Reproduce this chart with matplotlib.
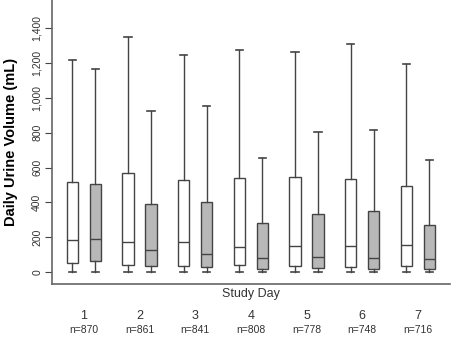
import matplotlib
matplotlib.use("Agg")
import matplotlib.pyplot as plt
from matplotlib.ticker import FuncFormatter

days = [1, 2, 3, 4, 5, 6, 7]
counts = [870, 861, 841, 808, 778, 748, 716]

# white boxes (first group each day)
a_whishi = [1217, 1347, 1247, 1274, 1261, 1309, 1196]
a_q3 = [518, 570, 527, 541, 547, 537, 495]
a_med = [185, 173, 172, 145, 150, 150, 154]
a_q1 = [53, 42, 38, 44, 38, 33, 34]
a_whislo = [0, 0, 0, 0, 0, 0, 0]

# grey boxes (second group each day)
b_whishi = [1166, 922, 954, 655, 806, 817, 644]
b_q3 = [507, 390, 400, 280, 335, 352, 269]
b_med = [193, 130, 103, 84, 90, 82, 76]
b_q1 = [67, 38, 30, 21, 23, 21, 21]
b_whislo = [0, 0, 0, 0, 0, 0, 0]

plt.rcParams['font.family'] = ['Liberation Sans', 'DejaVu Sans']
line_col = '#444444'

fig = plt.figure(figsize=(4.51, 3.51), dpi=100)
ax = fig.add_axes([0.115, 0.19, 0.883, 0.81])


def stats(lo, q1, med, q3, hi):
    return [dict(whislo=a, q1=b, med=c, q3=d, whishi=e, fliers=[])
            for a, b, c, d, e in zip(lo, q1, med, q3, hi)]


props = dict(patch_artist=True, showfliers=False, widths=0.2,
             whiskerprops=dict(color=line_col, lw=1.0),
             capprops=dict(color=line_col, lw=1.2),
             medianprops=dict(color=line_col, lw=1.0))
props['capwidths'] = 0.13

ax.bxp(stats(a_whislo, a_q1, a_med, a_q3, a_whishi),
       positions=[d - 0.207 for d in days],
       boxprops=dict(facecolor='white', edgecolor=line_col, lw=1.0), **props)
ax.bxp(stats(b_whislo, b_q1, b_med, b_q3, b_whishi),
       positions=[d + 0.207 for d in days],
       boxprops=dict(facecolor='#b8b8b8', edgecolor=line_col, lw=1.0), **props)

ax.set_xlim(0.425, 7.58)
ax.set_ylim(-69, 1560)
ax.set_yticks([0, 200, 400, 600, 800, 1000, 1200, 1400])
ax.yaxis.set_major_formatter(FuncFormatter(lambda v, p: f"{int(v):,}"))
ax.tick_params(axis='y', labelsize=7.5, rotation=90, length=5, width=0.8,
               colors=line_col, labelcolor='#333333', pad=2)
for lab in ax.get_yticklabels():
    lab.set_va('center')
ax.set_xticks([])
for s in ['top', 'right']:
    ax.spines[s].set_visible(False)
for s in ['left', 'bottom']:
    ax.spines[s].set_color('#666666')
    ax.spines[s].set_linewidth(1.2)

ax.set_ylabel("Daily Urine Volume (mL)", fontsize=10.5, fontweight='bold', labelpad=10)
ax.set_xlabel("Study Day", fontsize=9, color='#333333', labelpad=3)

trans = ax.get_xaxis_transform()
for d, n in zip(days, counts):
    ax.text(d, -0.11, str(d), transform=trans, ha='center', va='center',
            fontsize=9, color='#333333')
    ax.text(d, -0.16, f"n={n}", transform=trans, ha='center', va='center',
            fontsize=7.5, color='#333333')

fig.savefig("out.png", dpi=100)
